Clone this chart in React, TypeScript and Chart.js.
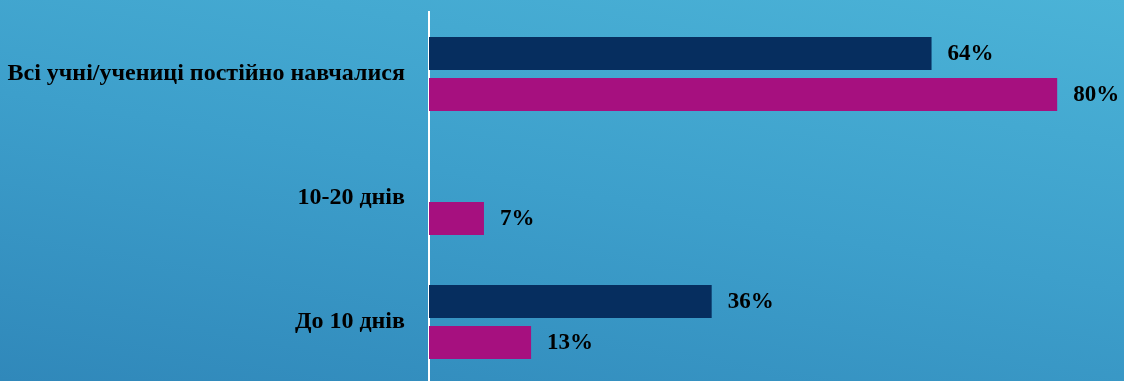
import React, { useEffect, useRef } from "react";
import { Chart, registerables } from "chart.js";

Chart.register(...registerables);

const categories = ["Всі учні/учениці постійно навчалися", "10-20 днів", "До 10 днів"];
const seriesA = [64, null, 36];
const seriesB = [80, 7, 13];
const seriesALabel = "Серія 1";
const seriesBLabel = "Серія 2";

const FONT = "'Liberation Serif', 'Times New Roman', serif";

const valueLabels = {
  id: "valueLabels",
  afterDatasetsDraw(chart: any) {
    const ctx = chart.ctx;
    ctx.save();
    ctx.font = "bold 23px " + FONT;
    ctx.fillStyle = "#000000";
    ctx.textAlign = "left";
    ctx.textBaseline = "middle";
    chart.data.datasets.forEach((ds: any, i: number) => {
      const meta = chart.getDatasetMeta(i);
      meta.data.forEach((el: any, j: number) => {
        const v = ds.data[j];
        if (v === null || v === undefined) return;
        ctx.fillText(v + "%", el.x + 16, el.y + 1);
      });
    });
    ctx.restore();
  },
};

export default function App() {
  const ref = useRef<HTMLCanvasElement | null>(null);
  useEffect(() => {
    document.body.style.margin = "0";
    document.body.style.overflow = "hidden";
    const chart = new Chart(ref.current as HTMLCanvasElement, {
      type: "bar",
      data: {
        labels: categories,
        datasets: [
          {
            label: seriesALabel,
            data: seriesA,
            backgroundColor: "#062e5f",
            categoryPercentage: 0.661,
            barPercentage: 0.805,
          },
          {
            label: seriesBLabel,
            data: seriesB,
            backgroundColor: "#a6107f",
            categoryPercentage: 0.661,
            barPercentage: 0.805,
          },
        ],
      },
      options: {
        indexAxis: "y",
        responsive: false,
        animation: false,
        layout: { padding: { top: 12, right: 4, left: 0, bottom: 0 } },
        plugins: { legend: { display: false }, tooltip: { enabled: false } },
        scales: {
          x: { display: false, min: 0, max: 88 },
          y: {
            grid: { display: false, drawTicks: false },
            border: { display: true, color: "#ffffff", width: 2 },
            afterFit: (scale: any) => {
              scale.width = 429;
              scale.paddingTop = 0;
              scale.paddingBottom = 0;
            },
            ticks: {
              color: "#000000",
              padding: 24,
              font: { family: FONT, size: 24, weight: "bold" },
            },
          },
        },
      },
      plugins: [valueLabels],
    });
    return () => chart.destroy();
  }, []);
  return (
    <div
      style={{
        position: "fixed",
        left: 0,
        top: 0,
        width: 1124,
        height: 381,
        overflow: "hidden",
        background: "linear-gradient(190deg, #4bb3d7 0%, #3d9fcb 50%, #3088ba 100%)",
      }}
    >
      <canvas ref={ref} width={1124} height={384} style={{ display: "block" }} />
    </div>
  );
}
